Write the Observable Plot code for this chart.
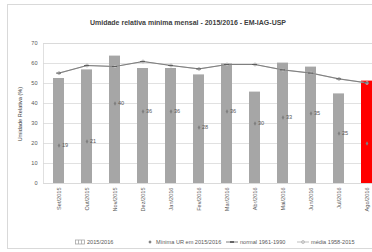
<!DOCTYPE html>
<html>
<head>
<meta charset="utf-8">
<script src="https://cdn.jsdelivr.net/npm/d3@7"></script>
<script src="https://cdn.jsdelivr.net/npm/@observablehq/plot@0.6"></script>
<style>
  html, body { margin: 0; padding: 0; background: #fff; overflow: hidden; }
  #wrap { position: relative; width: 372px; height: 252px; overflow: hidden; font-family: "Liberation Sans", Arial, sans-serif; }
  #border { position: absolute; left: 7px; top: 4px; width: 400px; height: 245px; border: 1px solid #d9d9d9; box-sizing: border-box; }
  #title { position: absolute; left: 0; top: 0; width: 376px; height: 33px; text-align: center; font-weight: bold; font-size: 7px; color: #404040; line-height: 46px; }
  #chart { position: absolute; left: 0; top: 33px; width: 390px; }
  #chart svg { max-width: none !important; }
  #ylabel { position: absolute; left: 20px; top: 114px; transform: translate(-50%, -50%) rotate(-90deg); font-size: 5.6px; color: #404040; white-space: nowrap; }
  #legend { position: absolute; left: 0; top: 236px; width: 400px; height: 12px; font-size: 5.6px; color: #595959; }
  .item { position: absolute; top: 0; display: flex; align-items: center; height: 12px; white-space: nowrap; }
  .item svg { margin-right: 2px; }
</style>
</head>
<body>
<div id="wrap">
  <div id="border"></div>
  <div id="title">Umidade relativa mínima mensal - 2015/2016 - EM-IAG-USP</div>
  <div id="chart"></div>
  <div id="ylabel">Umidade Relativa (%)</div>
  <div id="legend"></div>
</div>
<script>
const months = ["Set/2015","Out/2015","Nov/2015","Dez/2015","Jan/2016","Fev/2016","Mar/2016","Abr/2016","Mai/2016","Jun/2016","Jul/2016","Ago/2016"];
const ur2015_2016 = [52.5, 56.8, 63.7, 57.5, 57.5, 54.3, 59.8, 45.7, 60.2, 58.2, 44.8, 51.2];
const minimaUR = [19, 21, 40, 36, 36, 28, 36, 30, 33, 35, 25, 20];
const minimaLabels = ["19", "21", "40", "36", "36", "28", "36", "30", "33", "35", "25", ""];
const normal1961_1990 = [55.2, 59, 58.5, 61, 59, 57.3, 59.5, 59.5, 56.8, 55.2, 52.3, 50.3];
const media1958_2015 = [55.2, 59, 58.5, 61, 59, 57.3, 59.5, 59.5, 56.8, 55.2, 52.3, 50.3];
const highlightMonth = "Ago/2016";

const rows = months.map((m, i) => ({
  month: m,
  ur: ur2015_2016[i],
  min: minimaUR[i],
  minLabel: minimaLabels[i],
  normal: normal1961_1990[i],
  media: media1958_2015[i]
}));

const chart = Plot.plot({
  width: 390,
  height: 200,
  marginTop: 10,
  marginBottom: 50,
  marginLeft: 43,
  marginRight: 8,
  style: { fontFamily: "Liberation Sans, Arial, sans-serif", fontSize: "5.6px", color: "#595959", background: "transparent", overflow: "visible" },
  x: { domain: months, paddingInner: 0.61, paddingOuter: 0.27, label: null },
  y: { domain: [0, 70], label: null },
  marks: [
    Plot.gridY(d3.range(0, 71, 10), { stroke: "#d9d9d9", strokeOpacity: 1, strokeWidth: 0.8 }),
    Plot.frame({ stroke: "#d9d9d9", strokeWidth: 0.8 }),
    Plot.axisY(d3.range(0, 71, 10), { tickSize: 0, tickPadding: 6, fill: "#595959" }),
    Plot.axisX({ tickSize: 0, tickRotate: -90, tickPadding: 4, fill: "#595959" }),
    Plot.barY(rows.filter(d => d.month !== highlightMonth), { x: "month", y: "ur", fill: "#a6a6a6" }),
    Plot.barY(rows.filter(d => d.month === highlightMonth), { x: "month", y: "ur", fill: "#ff0000" }),
    Plot.line(rows, { x: "month", y: "media", stroke: "#bfbfbf", strokeWidth: 1.2 }),
    Plot.dot(rows, { x: "month", y: "media", r: 1.5, stroke: "#a6a6a6", fill: "#d9d9d9", strokeWidth: 0.6 }),
    Plot.line(rows, { x: "month", y: "normal", stroke: "#7f7f7f", strokeWidth: 1 }),
    Plot.tickY(rows, { x: "month", y: "normal", stroke: "#595959", strokeWidth: 0.9, inset: 3 }),
    Plot.dot(rows, { x: "month", y: "min", symbol: "diamond", r: 1.4, fill: "#7f7f7f" }),
    Plot.text(rows, { x: "month", y: "min", text: "minLabel", dx: 3, textAnchor: "start", fill: "#595959", fontSize: 5.6 })
  ]
});
document.getElementById("chart").appendChild(chart);

// Legend
const legendItems = [
  { label: "2015/2016", left: 75, swatch: '<svg width="10" height="6"><rect x="0.5" y="1" width="9" height="4" fill="#fff" stroke="#a6a6a6" stroke-width="0.8"/><line x1="3.5" y1="1" x2="3.5" y2="5" stroke="#a6a6a6" stroke-width="0.8"/><line x1="6.5" y1="1" x2="6.5" y2="5" stroke="#a6a6a6" stroke-width="0.8"/></svg>' },
  { label: "Mínima UR em 2015/2016", left: 146, swatch: '<svg width="8" height="6"><path d="M4 1.3 L5.7 3 L4 4.7 L2.3 3 Z" fill="#7f7f7f"/></svg>' },
  { label: "normal 1961-1990", left: 226, swatch: '<svg width="12" height="6"><line x1="0" y1="3" x2="12" y2="3" stroke="#7f7f7f" stroke-width="1"/><line x1="4" y1="3" x2="8" y2="3" stroke="#404040" stroke-width="1.4"/></svg>' },
  { label: "média 1958-2015", left: 297, swatch: '<svg width="12" height="6"><line x1="0" y1="3" x2="12" y2="3" stroke="#bfbfbf" stroke-width="1"/><circle cx="6" cy="3" r="1.5" fill="#d9d9d9" stroke="#a6a6a6" stroke-width="0.6"/></svg>' }
];
const legend = document.getElementById("legend");
legendItems.forEach(it => {
  const el = document.createElement("div");
  el.className = "item";
  el.style.left = it.left + "px";
  el.innerHTML = it.swatch + "<span>" + it.label + "</span>";
  legend.appendChild(el);
});
</script>
</body>
</html>
